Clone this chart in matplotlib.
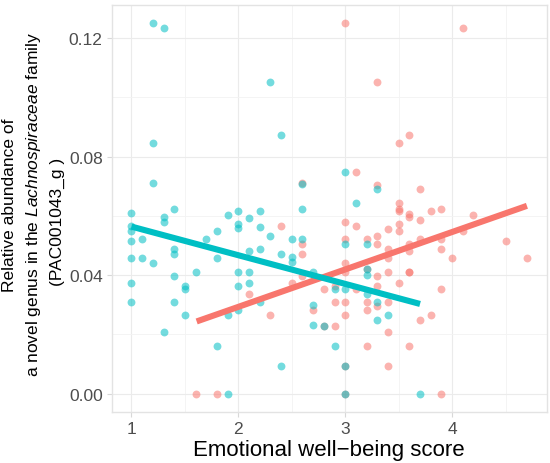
import matplotlib
matplotlib.use("Agg")
import matplotlib.pyplot as plt
from matplotlib.ticker import MultipleLocator

plt.rcParams['font.family'] = ['Liberation Sans', 'DejaVu Sans']
plt.rcParams['mathtext.fontset'] = 'custom'
plt.rcParams['mathtext.it'] = 'Liberation Sans:italic'
plt.rcParams['mathtext.rm'] = 'Liberation Sans'

# ---- data ----
teal_x = [1.2, 1.3, 2.3, 2.4, 1.2, 1.2, 2.6, 1.0, 1.4, 1.3, 1.3, 1.9, 2.0, 2.1, 2.2, 2.6,
          1.0, 1.0, 1.0, 1.1, 1.0, 1.1, 1.2, 1.0, 1.0, 1.4, 1.4, 1.4, 1.4, 1.5, 1.5, 1.5,
          1.3, 1.6, 1.7, 1.8, 1.8, 2.0, 2.0, 2.2, 2.1, 2.2, 2.3, 2.4, 2.5, 2.5, 2.5, 2.6,
          2.7, 2.0, 2.0, 2.1, 2.1, 2.2, 2.0, 1.9, 2.7, 2.7, 1.8, 2.4, 1.9,
          3.0, 3.3, 3.1, 3.0, 3.2, 3.2, 3.2, 2.9, 3.0, 3.2, 3.3, 3.4, 3.3, 2.8, 2.9,
          3.0, 3.0, 3.7]
teal_y = [0.1250, 0.1233, 0.1053, 0.0874, 0.0847, 0.0710, 0.0706, 0.0609, 0.0624, 0.0596,
          0.0580, 0.0603, 0.0617, 0.0592, 0.0617, 0.0624, 0.0565, 0.0548, 0.0514, 0.0523,
          0.0459, 0.0459, 0.0440, 0.0375, 0.0310, 0.0488, 0.0471, 0.0398, 0.0310, 0.0364,
          0.0353, 0.0266, 0.0209, 0.0410, 0.0522, 0.0548, 0.0459, 0.0573, 0.0558, 0.0564,
          0.0480, 0.0488, 0.0532, 0.0471, 0.0523, 0.0461, 0.0443, 0.0523, 0.0410, 0.0410,
          0.0364, 0.0410, 0.0375, 0.0310, 0.0281, 0.0266, 0.0298, 0.0231, 0.0162, 0.0095,
          0.0, 0.0747, 0.0691, 0.0645, 0.0505, 0.0505, 0.0420, 0.0400, 0.0352, 0.0352,
          0.0337, 0.0310, 0.0266, 0.0248, 0.0230, 0.0162, 0.0094, 0.0, 0.0]

salmon_x = [2.6, 3.0, 4.1, 3.3, 3.5, 3.6, 3.1, 3.3, 3.7, 3.5, 3.5, 3.5, 3.6, 3.6, 3.7, 3.8,
            3.9, 4.2, 2.4, 2.6, 2.6, 2.6, 2.5, 2.1, 2.3, 2.7, 1.6, 1.8, 3.0, 3.1, 3.5, 3.5,
            3.4, 3.0, 3.2, 3.3, 3.3, 3.4, 3.4, 3.6, 3.6, 3.7, 3.9, 3.9, 4.0, 4.1, 4.5, 4.7,
            3.0, 3.0, 3.2, 3.3, 3.4, 3.6, 3.6, 3.5, 3.3, 3.9, 2.8, 2.9, 3.1, 2.9, 3.0, 3.2,
            3.3, 3.4, 3.2, 3.0, 3.8, 3.7, 2.8, 2.9, 3.4, 3.2, 3.6, 3.0, 3.4, 3.0, 3.9]
salmon_y = [0.0712, 0.1250, 0.1233, 0.1053, 0.0847, 0.0873, 0.0747, 0.0705, 0.0691, 0.0645,
            0.0624, 0.0617, 0.0608, 0.0595, 0.0586, 0.0617, 0.0624, 0.0603, 0.0565, 0.0504,
            0.0471, 0.0398, 0.0375, 0.0338, 0.0266, 0.0281, 0.0, 0.0, 0.0580, 0.0565,
            0.0573, 0.0548, 0.0556, 0.0523, 0.0523, 0.0532, 0.0505, 0.0488, 0.0459, 0.0505,
            0.0480, 0.0523, 0.0523, 0.0488, 0.0459, 0.0549, 0.0514, 0.0459, 0.0440, 0.0410,
            0.0420, 0.0398, 0.0410, 0.0410, 0.0410, 0.0375, 0.0364, 0.0352, 0.0352, 0.0364,
            0.0352, 0.0310, 0.0310, 0.0310, 0.0297, 0.0310, 0.0281, 0.0266, 0.0266, 0.0248,
            0.0230, 0.0230, 0.0209, 0.0162, 0.0162, 0.0094, 0.0094, 0.0, 0.0]

# fitted lines (endpoints)
teal_fit_x = [1.0, 3.7]
teal_fit_y = [0.0564, 0.0303]
salmon_fit_x = [1.61, 4.70]
salmon_fit_y = [0.0244, 0.0634]

x_ticks = [1, 2, 3, 4]
y_ticks = [0.00, 0.04, 0.08, 0.12]
y_tick_labels = ["0.00", "0.04", "0.08", "0.12"]

TEAL = "#00BFC4"
SALMON = "#F8766D"

fig = plt.figure(figsize=(5.5, 4.64), dpi=100)
ax = fig.add_axes([111.7 / 550, 1 - 413.3 / 464, (546.7 - 111.7) / 550, (413.3 - 5.7) / 464])

ax.scatter(salmon_x, salmon_y, s=32, color=SALMON, alpha=0.55, linewidths=0, zorder=3)
ax.scatter(teal_x, teal_y, s=32, color=TEAL, alpha=0.55, linewidths=0, zorder=3)
ax.plot(salmon_fit_x, salmon_fit_y, color=SALMON, lw=4.4, solid_capstyle='butt', zorder=4)
ax.plot(teal_fit_x, teal_fit_y, color=TEAL, lw=4.4, solid_capstyle='butt', zorder=5)

ax.set_xlim(0.815, 4.885)
ax.set_ylim(-0.00625, 0.13125)
ax.set_xticks(x_ticks)
ax.set_xticklabels([str(v) for v in x_ticks])
ax.set_yticks(y_ticks)
ax.set_yticklabels(y_tick_labels)
ax.xaxis.set_minor_locator(MultipleLocator(0.5))
ax.yaxis.set_minor_locator(MultipleLocator(0.02))

ax.grid(which='major', color='#EBEBEB', lw=0.8, zorder=0)
ax.grid(which='minor', color='#F3F3F3', lw=0.6, zorder=0)
ax.set_axisbelow(True)
for sp in ax.spines.values():
    sp.set_color('#E3E3E3')
    sp.set_linewidth(1.0)
ax.tick_params(which='major', length=3.5, width=0.8, color='#D8D8D8',
               labelsize=12.5, labelcolor='#4D4D4D', pad=3)
ax.tick_params(which='minor', length=0)

ax.set_xlabel("Emotional well\u2212being score", fontsize=16, color='black', labelpad=2)

fig.text(10 / 550, 1 - 205 / 464, "Relative abundance of", rotation=90, ha='center', va='center',
         fontsize=12.5, color='black')
fig.text(34 / 550, 1 - 205 / 464, r"a novel genus in the $\it{Lachnospiraceae}$ family", rotation=90,
         ha='center', va='center', fontsize=12.5, color='black')
fig.text(57 / 550, 1 - 222 / 464, "(PAC001043_g )", rotation=90, ha='center', va='center',
         fontsize=12.5, color='black')

fig.savefig("out.png", dpi=100)
